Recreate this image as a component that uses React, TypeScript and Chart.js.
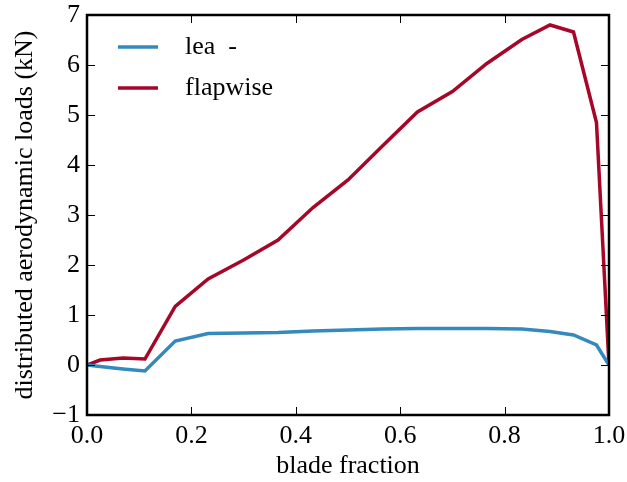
import React, { useEffect, useRef } from "react";
import { Chart, registerables } from "chart.js";

Chart.register(...registerables);

const bladeFraction = [0, 0.025, 0.069, 0.111, 0.169, 0.232, 0.3, 0.366, 0.433, 0.5, 0.566, 0.633, 0.7, 0.766, 0.833, 0.887, 0.932, 0.976, 1.0];
const leadwise = [0, -0.03, -0.08, -0.12, 0.48, 0.63, 0.64, 0.65, 0.68, 0.7, 0.72, 0.73, 0.73, 0.73, 0.72, 0.67, 0.6, 0.4, 0];
const flapwise = [0, 0.1, 0.14, 0.12, 1.17, 1.72, 2.1, 2.5, 3.15, 3.7, 4.38, 5.06, 5.47, 6.03, 6.51, 6.8, 6.66, 4.85, 0];
const seriesLabels = ["lea  -", "flapwise"];
const seriesColors = ["#348ABD", "#A60628"];
const xTicks = [0, 0.2, 0.4, 0.6, 0.8, 1.0];
const yTicks = [-1, 0, 1, 2, 3, 4, 5, 6, 7];

const FONT = "'Liberation Serif', 'DejaVu Serif', serif";
const FS = 26;

const framePlugin = {
  id: "frame",
  afterDraw(chart: any) {
    const { ctx, chartArea: a, scales } = chart;
    const tl = 8;
    ctx.save();
    ctx.strokeStyle = "#000";
    ctx.lineWidth = 1;
    ctx.beginPath();
    for (const v of xTicks) {
      const x = Math.round(scales.x.getPixelForValue(v)) + 0.5;
      ctx.moveTo(x, a.bottom);
      ctx.lineTo(x, a.bottom - tl);
      ctx.moveTo(x, a.top);
      ctx.lineTo(x, a.top + tl);
    }
    for (const v of yTicks) {
      const y = Math.round(scales.y.getPixelForValue(v)) + 0.5;
      ctx.moveTo(a.left, y);
      ctx.lineTo(a.left + tl, y);
      ctx.moveTo(a.right, y);
      ctx.lineTo(a.right - tl, y);
    }
    ctx.stroke();
    ctx.lineWidth = 2.5;
    ctx.strokeRect(a.left, a.top, a.right - a.left, a.bottom - a.top);
    // legend
    ctx.font = `${FS}px ${FONT}`;
    ctx.textBaseline = "middle";
    ctx.textAlign = "left";
    const rows = [47, 88];
    chart.data.datasets.forEach((ds: any, i: number) => {
      ctx.strokeStyle = ds.borderColor;
      ctx.lineWidth = 3.5;
      ctx.beginPath();
      ctx.moveTo(118, rows[i]);
      ctx.lineTo(158, rows[i]);
      ctx.stroke();
      ctx.fillStyle = "#000";
      ctx.fillText(ds.label, 185, rows[i]);
    });
    ctx.restore();
  },
};

export default function App() {
  const ref = useRef<HTMLCanvasElement>(null);
  useEffect(() => {
    document.body.style.margin = "0";
    const mk = (ys: number[]) => bladeFraction.map((x, i) => ({ x, y: ys[i] }));
    const chart = new Chart(ref.current!, {
      type: "line",
      data: {
        datasets: [
          { label: seriesLabels[0], data: mk(leadwise), borderColor: seriesColors[0], borderWidth: 3.5, pointRadius: 0, fill: false, tension: 0 },
          { label: seriesLabels[1], data: mk(flapwise), borderColor: seriesColors[1], borderWidth: 3.5, pointRadius: 0, fill: false, tension: 0 },
        ],
      },
      options: {
        animation: false,
        responsive: false,
        layout: { padding: { left: 0, top: 15, right: 18, bottom: 0 } },
        plugins: { legend: { display: false }, tooltip: { enabled: false } },
        scales: {
          x: {
            type: "linear",
            min: 0,
            max: 1,
            afterFit: (s: any) => { s.height = 67; s.paddingLeft = 0; s.paddingRight = 0; },
            afterBuildTicks: (s: any) => { s.ticks = xTicks.map((v) => ({ value: v })); },
            grid: { display: false, drawTicks: false },
            border: { display: false },
            ticks: {
              color: "#000",
              padding: 6,
              maxRotation: 0,
              font: { family: FONT, size: FS },
              callback: (v: any) => Number(v).toFixed(1),
            },
            title: { display: true, text: "blade fraction", color: "#000", font: { family: FONT, size: FS }, padding: { top: 0, bottom: 0 } },
          },
          y: {
            type: "linear",
            min: -1,
            max: 7,
            afterFit: (s: any) => { s.width = 87; s.paddingTop = 0; s.paddingBottom = 0; },
            afterBuildTicks: (s: any) => { s.ticks = yTicks.map((v) => ({ value: v })); },
            grid: { display: false, drawTicks: false },
            border: { display: false },
            ticks: {
              color: "#000",
              padding: 7,
              font: { family: FONT, size: FS },
              callback: (v: any) => String(v).replace("-", "\u2212"),
            },
            title: { display: true, text: "distributed aerodynamic loads (kN)", color: "#000", font: { family: FONT, size: FS }, padding: { top: 10, bottom: 0 } },
          },
        },
      },
      plugins: [framePlugin],
    });
    return () => chart.destroy();
  }, []);
  return (
    <div style={{ position: "absolute", left: 0, top: 0, width: 627, height: 482, background: "#fff" }}>
      <canvas ref={ref} width={627} height={482} style={{ width: 627, height: 482 }} />
    </div>
  );
}
